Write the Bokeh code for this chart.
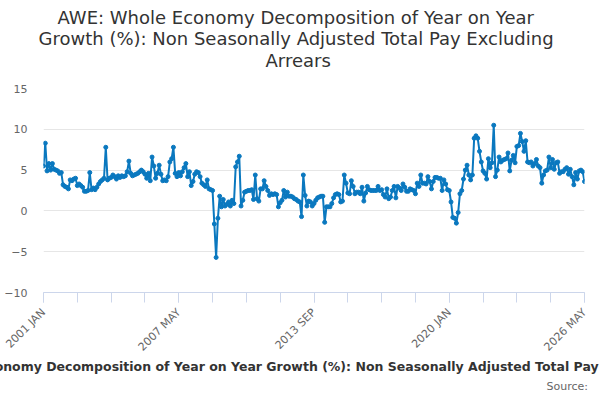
from math import pi
from bokeh.plotting import figure
from bokeh.models import Range1d, FixedTicker, Title, ColumnDataSource
from bokeh.embed import file_html
from bokeh.resources import INLINE

# ---- data ----
values_2001_2005 = [
    5.5, 8.3, 4.9, 5.8, 5.0, 5.8, 5.1, 5.0, 4.9, 4.6, 4.7, 3.2,
    3.0, 2.9, 2.7, 3.8, 3.7, 3.9, 4.0, 3.1, 3.3, 3.1, 2.9, 2.4,
    2.4, 2.5, 4.7, 2.6, 2.8, 2.6, 2.9, 3.3, 3.6, 3.8, 4.0, 7.8,
    3.8, 4.0, 4.1, 4.4, 4.2, 3.9, 4.3, 4.1, 4.3, 4.2, 4.3, 4.8,
    6.1, 4.6, 4.3, 4.4, 4.5, 4.6, 4.8, 5.0, 4.8, 4.5, 4.0, 4.6,
]
values_2006_2010 = [
    3.7, 6.6, 5.5, 4.0, 4.6, 5.6, 4.5, 3.7, 3.8, 3.7, 4.2, 6.0,
    6.4, 7.8, 4.6, 4.2, 4.7, 4.3, 4.8, 5.3, 5.8, 4.2, 4.8, 3.1,
    3.6, 4.5, 4.8, 4.7, 4.2, 3.4, 3.2, 3.0, 3.8, 2.7, 2.6, 2.5,
    -1.6, -5.7, -0.9, 1.8, 0.5, 1.4, 0.6, 0.8, 1.1, 0.6, 1.3, 0.9,
    5.4, 6.0, 6.7, 0.6, 1.3, 2.3, 2.4, 2.5, 2.5, 2.6, 1.4, 4.4,
]
values_2011_2015 = [
    1.5, 1.2, 2.7, 2.7, 3.7, 3.0, 2.5, 1.9, 2.1, 2.0, 2.1, 2.0,
    0.5, 1.0, 1.3, 2.5, 1.7, 2.3, 1.8, 1.8, 1.7, 1.5, 1.4, 1.2,
    1.1, -0.7, 4.4, 1.9, 0.6, 1.2, 1.1, 0.6, 0.9, 1.3, 1.6, 1.7,
    1.8, 1.8, -1.4, 0.5, 0.5, 0.5, 0.9, 1.6, 2.0, 2.1, 2.0, 1.1,
    1.2, 4.4, 3.4, 2.2, 2.1, 3.7, 3.0, 2.1, 2.3, 2.3, 2.1, 2.9,
]
values_2016_2020 = [
    1.2, 2.2, 3.0, 2.6, 2.5, 2.5, 2.5, 2.5, 3.0, 2.5, 2.6, 2.0,
    1.7, 2.7, 1.5, 1.7, 2.5, 3.0, 1.6, 3.0, 2.8, 2.5, 3.3, 2.9,
    2.4, 2.4, 2.7, 2.6, 2.5, 2.1, 3.4, 3.0, 4.4, 3.4, 3.4, 3.3,
    4.2, 3.6, 2.7, 3.6, 4.1, 4.1, 4.0, 4.0, 2.5, 3.8, 3.3, 2.6,
    2.5, 1.1, -0.8, -0.9, -1.5, -0.2, 2.1, 2.5, 3.9, 5.0, 5.6, 4.4,
]
values_2021_2026 = [
    3.8, 4.4, 8.9, 9.2, 8.9, 7.3, 6.0, 4.9, 4.6, 3.9, 6.4, 5.3,
    5.9, 10.5, 4.2, 5.0, 6.6, 6.0, 6.2, 6.3, 6.4, 7.1, 4.9, 6.2,
    6.8, 5.9, 7.9, 8.0, 9.5, 8.5, 7.3, 8.6, 6.0, 5.9, 6.0, 5.5,
    5.8, 6.3, 5.5, 5.3, 3.4, 4.4, 4.9, 5.0, 6.6, 5.3, 6.3, 5.1,
    5.9, 6.0, 4.6, 4.8, 4.8, 5.1, 5.3, 4.5, 5.1, 4.2, 3.2, 4.7,
    3.9, 4.9, 5.0, 4.8, 3.6,
]
values = values_2001_2005 + values_2006_2010 + values_2011_2015 + values_2016_2020 + values_2021_2026

month_names = ["JAN", "FEB", "MAR", "APR", "MAY", "JUN", "JUL", "AUG", "SEP", "OCT", "NOV", "DEC"]
categories = [f"{2001 + k // 12} {month_names[k % 12]}" for k in range(len(values))]
x_tick_labels = ["2001 JAN", "2007 MAY", "2013 SEP", "2020 JAN", "2026 MAY"]
y_ticks = [-10, -5, 0, 5, 10, 15]

title_lines = [
    "AWE: Whole Economy Decomposition of Year on Year",
    "Growth (%): Non Seasonally Adjusted Total Pay Excluding",
    "Arrears",
]
series_name = "AWE: Whole Economy Decomposition of Year on Year Growth (%): Non Seasonally Adjusted Total Pay Excluding Arrears"
source_text = "Source:"

# ---- build ----
idx = list(range(len(values)))
src = ColumnDataSource(dict(x=idx, y=values, cat=categories))

major_pos = [categories.index(t) for t in x_tick_labels]
step = (major_pos[1] - major_pos[0]) // 4
minor_pos = list(range(0, len(values), step))

BLUE = "#0a78bf"
FONT = "DejaVu Sans"

p = figure(width=600, height=400, output_backend="svg", toolbar_location=None,
           x_range=Range1d(0, len(values) - 1), y_range=Range1d(-10, 15),
           min_border_left=43, min_border_right=16, min_border_top=88, min_border_bottom=107)
p.outline_line_color = None
p.background_fill_color = "white"
p.border_fill_color = "white"

p.line("x", "y", source=src, line_color=BLUE, line_width=2)
p.scatter("x", "y", source=src, size=4, fill_color=BLUE, line_color=BLUE)

p.xgrid.visible = False
p.ygrid.grid_line_color = "#e6e6e6"
p.ygrid.ticker = FixedTicker(ticks=y_ticks)

ya = p.yaxis[0]
ya.ticker = FixedTicker(ticks=y_ticks)
ya.axis_line_color = None
ya.major_tick_line_color = None
ya.minor_tick_line_color = None
ya.major_tick_out = 0
ya.major_tick_in = 0
ya.major_label_standoff = 16
ya.major_label_text_font_size = "11px"
ya.major_label_text_color = "#666666"
ya.major_label_text_font = FONT

xa = p.xaxis[0]
xa.ticker = FixedTicker(ticks=major_pos, minor_ticks=minor_pos)
xa.major_label_overrides = {pos: lab for pos, lab in zip(major_pos, x_tick_labels)}
xa.axis_line_color = "#ccd6eb"
xa.major_tick_line_color = "#ccd6eb"
xa.minor_tick_line_color = "#ccd6eb"
xa.major_tick_out = 10
xa.major_tick_in = 0
xa.minor_tick_out = 10
xa.minor_tick_in = 0
xa.major_label_orientation = pi / 4
xa.major_label_standoff = 8
xa.major_label_text_font_size = "11px"
xa.major_label_text_color = "#666666"
xa.major_label_text_font = FONT

# title: spacer nearest the frame, then the three lines stacked upward
p.add_layout(Title(text=" ", text_font_size="6px"), "above")
title_offsets = [14, -5, 222]
title_standoffs = [-2, -2, 0]
for k in (2, 1, 0):
    p.add_layout(Title(text=title_lines[k], align="left", offset=title_offsets[k],
                       text_font=FONT, text_font_size="18px", text_font_style="normal",
                       text_color="#333333", standoff=title_standoffs[k]), "above")

# legend text (wider than the chart, clipped at both sides) and source line
p.add_layout(Title(text=series_name, align="left", offset=-154,
                   text_font=FONT, text_font_size="12.5px", text_font_style="bold",
                   text_color="#333333", standoff=-9), "below")
p.add_layout(Title(text=source_text, align="left", offset=503,
                   text_font=FONT, text_font_size="11px", text_font_style="normal",
                   text_color="#666666", standoff=16), "below")

open("out.html", "w").write(file_html(p, INLINE))
